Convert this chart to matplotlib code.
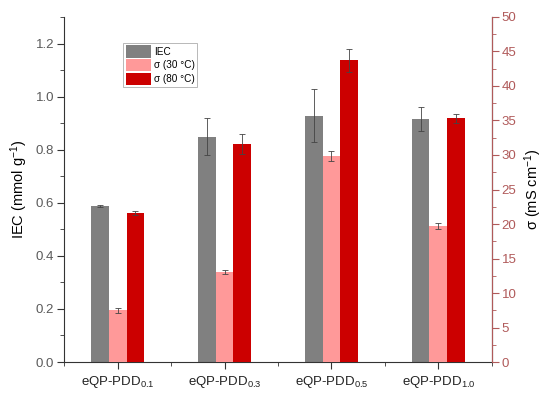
import numpy as np
import matplotlib.pyplot as plt
from matplotlib.ticker import MultipleLocator

plt.rcParams['font.family'] = ['Liberation Sans', 'DejaVu Sans']
plt.rcParams['mathtext.fontset'] = 'custom'
plt.rcParams['mathtext.rm'] = 'Liberation Sans'
plt.rcParams['mathtext.it'] = 'Liberation Sans:italic'
plt.rcParams['mathtext.default'] = 'rm'

# Données
echantillons = ['eQP-PDD$_{0.1}$', 'eQP-PDD$_{0.3}$', 'eQP-PDD$_{0.5}$', 'eQP-PDD$_{1.0}$']
iec = [0.588, 0.849, 0.928, 0.915]
iec_err = [0.003, 0.07, 0.10, 0.044]
sigma30 = [7.5, 13.0, 29.9, 19.75]
sigma30_err = [0.4, 0.3, 0.7, 0.45]
sigma80 = [21.55, 31.6, 43.7, 35.3]
sigma80_err = [0.3, 1.5, 1.6, 0.6]

gris = '#808080'
rose = '#ff9999'
rouge = '#cc0000'
couleur_droite = '#b05a5a'
texte_gris = '#5a5a5a'

x = np.arange(len(echantillons))
w = 0.168
err_kw = dict(ecolor='#444444', elinewidth=0.6, capsize=2.5, capthick=0.6)

fig = plt.figure(figsize=(5.5, 3.95), dpi=100)
ax = fig.add_axes([0.1164, 0.0835, 0.7781, 0.8735])
ax2 = ax.twinx()

b1 = ax.bar(x - w, iec, w, yerr=iec_err, color=gris, error_kw=err_kw, label='IEC')
b2 = ax2.bar(x, sigma30, w, yerr=sigma30_err, color=rose, error_kw=err_kw,
             label='σ (30 °C)')
b3 = ax2.bar(x + w, sigma80, w, yerr=sigma80_err, color=rouge, error_kw=err_kw,
             label='σ (80 °C)')

ax.set_xlim(-0.5, 3.5)
ax.set_ylim(0, 1.3)
ax2.set_ylim(0, 50)

ax.set_xticks(x)
ax.set_xticklabels(echantillons, fontsize=9.5)
ax.xaxis.set_minor_locator(MultipleLocator(0.5))
ax.yaxis.set_major_locator(MultipleLocator(0.2))
ax.yaxis.set_minor_locator(MultipleLocator(0.1))
ax.yaxis.set_major_formatter(plt.FuncFormatter(lambda v, p: f'{v:.1f}'))
ax2.yaxis.set_major_locator(MultipleLocator(5))
ax2.yaxis.set_minor_locator(MultipleLocator(2.5))

for a in (ax, ax2):
    a.spines['top'].set_visible(False)

ax.spines['left'].set_color('#333333')
ax.spines['bottom'].set_color('#333333')
ax2.spines['right'].set_color(couleur_droite)
ax2.spines['left'].set_visible(False)
ax2.spines['bottom'].set_visible(False)

ax.tick_params(axis='y', which='both', direction='out', colors='#333333',
               labelcolor=texte_gris, labelsize=9.5, pad=2)
ax.tick_params(axis='y', which='major', length=5)
ax.tick_params(axis='y', which='minor', length=3)
ax.tick_params(axis='x', which='both', direction='out', colors='#333333',
               labelcolor='#222222')
ax.tick_params(axis='x', which='major', length=5)
ax.tick_params(axis='x', which='minor', length=3)
ax2.tick_params(axis='y', which='both', direction='out', colors=couleur_droite,
                labelsize=9.5, pad=2)
ax2.tick_params(axis='y', which='major', length=5)
ax2.tick_params(axis='y', which='minor', length=3)

ax.set_ylabel('IEC (mmol g$^{-1}$)', fontsize=10.5, labelpad=4)
ax2.set_ylabel('σ (mS cm$^{-1}$)', fontsize=10.5, labelpad=4)

leg = ax.legend([b1, b2, b3], ['IEC', 'σ (30 °C)', 'σ (80 °C)'],
                loc='upper left', bbox_to_anchor=(0.138, 0.925), fontsize=7.2,
                frameon=True, fancybox=False, edgecolor='#999999',
                handlelength=2.5, handleheight=1.5, borderpad=0.25,
                labelspacing=0.15, handletextpad=0.35, borderaxespad=0)
leg.get_frame().set_linewidth(0.6)

fig.savefig('out.png', dpi=100)
